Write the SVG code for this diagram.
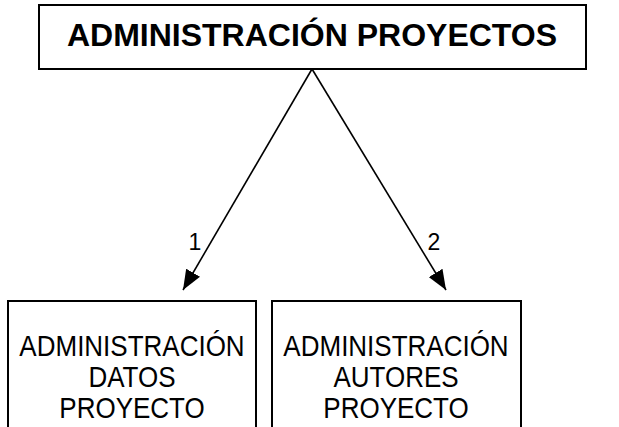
<svg xmlns="http://www.w3.org/2000/svg" width="619" height="427" viewBox="0 0 619 427">
<style>
.box{fill:#fff;stroke:#000;stroke-width:2}
.t{font-family:"Liberation Sans",Arial,sans-serif;fill:#000;text-anchor:middle}
.b{font-size:26px}
.e{stroke:#000;stroke-width:1.6;fill:none}
</style>
<defs>
<marker id="ah" markerUnits="userSpaceOnUse" markerWidth="22" markerHeight="16" refX="20" refY="8" orient="auto">
<path d="M0,0 L20,8 L0,16 z" fill="#000"/>
</marker>
</defs>
<rect width="619" height="427" fill="#fff"/>
<g id="root">
<rect class="box" x="39" y="5" width="547" height="64"/>
<text class="t" x="312" y="46" font-size="32" font-weight="bold">ADMINISTRACIÓN PROYECTOS</text>
</g>
<g id="datos">
<rect class="box" x="8" y="301" width="248" height="130"/>
<text class="t b" transform="translate(132,356) scale(1,1.12)">ADMINISTRACIÓN</text>
<text class="t b" transform="translate(132,387) scale(1,1.12)">DATOS</text>
<text class="t b" transform="translate(132,418) scale(1,1.12)">PROYECTO</text>
</g>
<g id="autores">
<rect class="box" x="272" y="301" width="249" height="130"/>
<text class="t b" transform="translate(396,356) scale(1,1.12)">ADMINISTRACIÓN</text>
<text class="t b" transform="translate(396,387) scale(1,1.12)">AUTORES</text>
<text class="t b" transform="translate(396,418) scale(1,1.12)">PROYECTO</text>
</g>
<g id="connectors">
<line class="e" x1="312" y1="69" x2="183" y2="290" marker-end="url(#ah)"/>
<line class="e" x1="312" y1="69" x2="446" y2="290" marker-end="url(#ah)"/>
<text class="t" x="195" y="250" font-size="23">1</text>
<text class="t" x="434" y="250" font-size="23">2</text>
</g>
</svg>
